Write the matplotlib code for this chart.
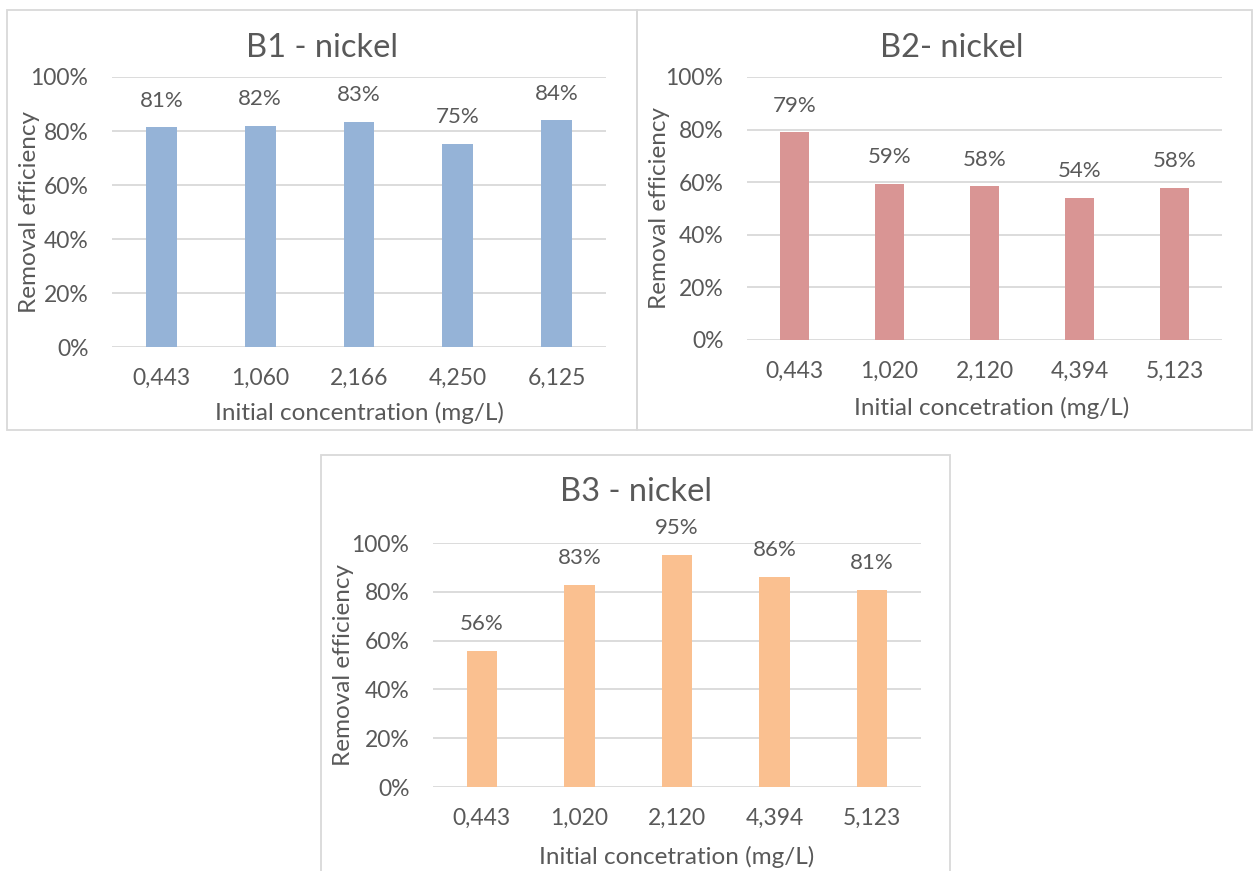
import matplotlib
matplotlib.use("Agg")
import matplotlib.pyplot as plt
from matplotlib.patches import Rectangle
from matplotlib.ticker import FuncFormatter, MultipleLocator

plt.rcParams['font.family'] = ['Lato', 'DejaVu Sans']

# Removal efficiency of nickel for three sorbents at several initial concentrations
b1_conc = ["0,443", "1,060", "2,166", "4,250", "6,125"]
b1_eff = [0.814, 0.819, 0.833, 0.753, 0.840]

b2_conc = ["0,443", "1,020", "2,120", "4,394", "5,123"]
b2_eff = [0.790, 0.593, 0.584, 0.540, 0.578]

b3_conc = ["0,443", "1,020", "2,120", "4,394", "5,123"]
b3_eff = [0.557, 0.829, 0.951, 0.860, 0.807]

titles = ["B1 - nickel", "B2- nickel", "B3 - nickel"]
xlabels = ["Initial concentration (mg/L)", "Initial concetration (mg/L)",
           "Initial concetration (mg/L)"]
ylabel = "Removal efficiency"

W, H = 1256, 871
TEXT = "#595959"
GRID = "#D9D9D9"

fig = plt.figure(figsize=(W / 100, H / 100), dpi=100)


def frac_box(x0, y0, x1, y1):
    """Pixel box (top-left origin) -> figure fraction [left, bottom, width, height]."""
    return [x0 / W, 1 - y1 / H, (x1 - x0) / W, (y1 - y0) / H]


def frame(x0, y0, x1, y1):
    l, b, w, h = frac_box(x0, y0, x1, y1)
    fig.patches.append(Rectangle((l, b), w, h, transform=fig.transFigure,
                                 fill=False, edgecolor=GRID, linewidth=1.3))


def panel(plot_box, frame_box, cats, vals, color, title, xlabel,
          title_xy, xlabel_xy, ylabel_xy):
    frame(*frame_box)
    ax = fig.add_axes(frac_box(*plot_box))
    x = range(len(cats))
    ax.bar(x, vals, width=0.31, color=color, zorder=3)
    for xi, v in zip(x, vals):
        ax.annotate(f"{v:.0%}", (xi, v), xytext=(0, 12), textcoords="offset points",
                    ha="center", va="bottom", fontsize=16, color=TEXT)
    ax.set_xlim(-0.5, len(cats) - 0.5)
    ax.set_ylim(0, 1.0)
    ax.yaxis.set_major_locator(MultipleLocator(0.2))
    ax.yaxis.set_major_formatter(FuncFormatter(lambda v, p: f"{v:.0%}"))
    ax.set_xticks(list(x))
    ax.set_xticklabels(cats)
    ax.tick_params(axis="both", length=0, labelsize=16.5, labelcolor=TEXT)
    ax.tick_params(axis="y", pad=17)
    ax.tick_params(axis="x", pad=15)
    ax.grid(axis="y", color=GRID, linewidth=1.3, zorder=0)
    for s in ax.spines.values():
        s.set_visible(False)
    ax.set_facecolor("none")
    fig.text(title_xy[0] / W, 1 - title_xy[1] / H, title, ha="center", va="center",
             fontsize=23.5, color=TEXT)
    fig.text(xlabel_xy[0] / W, 1 - xlabel_xy[1] / H, xlabel, ha="center", va="center",
             fontsize=17.5, color=TEXT)
    fig.text(ylabel_xy[0] / W, 1 - ylabel_xy[1] / H, ylabel, ha="center", va="center",
             rotation=90, fontsize=17.5, color=TEXT)
    return ax


panel((112, 77, 606, 347), (7, 10, 637, 430), b1_conc, b1_eff, "#95B3D7",
      titles[0], xlabels[0], (322, 48), (359, 413), (30, 212))
panel((747, 77, 1222, 340), (637, 10, 1252, 430), b2_conc, b2_eff, "#D99594",
      titles[1], xlabels[1], (952, 48), (992, 408), (660, 208))
panel((433, 543, 921, 787), (321, 455, 950, 875), b3_conc, b3_eff, "#FAC090",
      titles[2], xlabels[2], (636, 492), (677, 857), (343, 665))

fig.savefig("out.png", dpi=100, facecolor="white")
